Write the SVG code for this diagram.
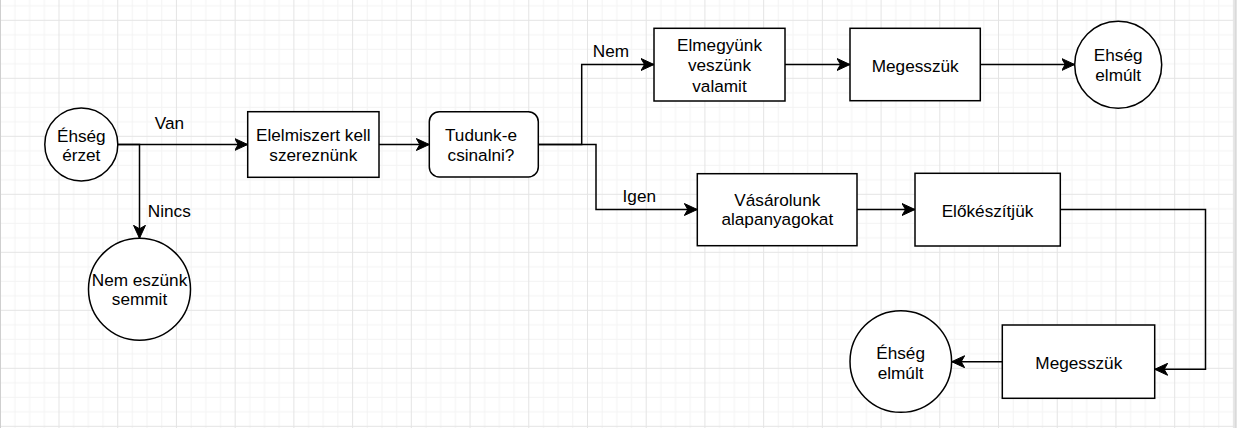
<svg xmlns="http://www.w3.org/2000/svg" width="1239" height="428" viewBox="0 0 1239 428">
<defs>
<pattern id="grid" patternUnits="userSpaceOnUse" x="-0.22" y="-38.2" width="58.72" height="58">
<rect x="14.68" y="0" width="1" height="58" fill="#f3f3f3"/>
<rect x="29.36" y="0" width="1" height="58" fill="#f3f3f3"/>
<rect x="44.04" y="0" width="1" height="58" fill="#f3f3f3"/>
<rect x="0" y="14.5" width="58.72" height="1" fill="#f3f3f3"/>
<rect x="0" y="29" width="58.72" height="1" fill="#f3f3f3"/>
<rect x="0" y="43.5" width="58.72" height="1" fill="#f3f3f3"/>
<rect x="0" y="0" width="1" height="58" fill="#e4e4e4"/>
<rect x="0" y="0" width="58.72" height="1" fill="#e4e4e4"/>
</pattern>
<marker id="arr" markerUnits="userSpaceOnUse" markerWidth="14" markerHeight="13" refX="13" refY="6.5" orient="auto" viewBox="0 0 14 13">
<path d="M0,0.5 L13,6.5 L0,12.5 L3.5,6.5 Z" fill="#000" stroke="#000" stroke-width="1"/>
</marker>
</defs>
<style>
.n{fill:#fff;stroke:#000;stroke-width:1.5}
.t{font-family:"Liberation Sans",Arial,Helvetica,sans-serif;font-size:17.2px;fill:#000;text-anchor:middle}
.e{fill:none;stroke:#000;stroke-width:1.5;marker-end:url(#arr)}
</style>
<rect width="1239" height="428" fill="#fff"/>
<rect x="0" y="0" width="1234" height="428" fill="url(#grid)"/>
<rect x="0" y="0" width="1" height="428" fill="#cfcfcf"/>
<rect x="1234.3" y="0" width="2.4" height="428" fill="#dadada"/>

<g id="connectors">
<path class="e" d="M117.7,144.5 H247.7"/>
<path class="e" d="M117.7,144.5 H139.5 V238.3"/>
<path class="e" d="M379,144.5 H429.3"/>
<path class="e" d="M531.7,144.5 H581.7 V64.5 H654"/>
<path class="e" d="M531.7,144.5 H596 V209.5 H697.3"/>
<path class="e" d="M785,64.5 H850"/>
<path class="e" d="M980.3,64.5 H1074.7"/>
<path class="e" d="M857,209.5 H915"/>
<path class="e" d="M1060.3,209.5 H1205.5 V369.3 H1154.7"/>
<path class="e" d="M1002.3,361.7 H951.7"/>
<text class="t" x="169.5" y="129.3">Van</text>
<text class="t" x="169.3" y="217">Nincs</text>
<text class="t" x="611" y="56.7">Nem</text>
<text class="t" x="639.3" y="201.7">Igen</text>
</g>

<g id="ehseg-erzet">
<circle class="n" cx="81.3" cy="144.4" r="36.5"/>
<text class="t" x="81.3" y="142.2">Éhség</text>
<text class="t" x="81.3" y="161.3">érzet</text>
</g>
<g id="nem-eszunk">
<circle class="n" cx="139.5" cy="289.2" r="51"/>
<text class="t" x="139.5" y="286">Nem eszünk</text>
<text class="t" x="139.5" y="305">semmit</text>
</g>
<g id="elelmiszert">
<rect class="n" x="247.7" y="111.7" width="131.3" height="65.6"/>
<text class="t" x="313.3" y="140.7">Elelmiszert kell</text>
<text class="t" x="313.3" y="161">szereznünk</text>
</g>
<g id="tudunk">
<rect class="n" x="429.3" y="111.7" width="109" height="65.3" rx="10" ry="10"/>
<text class="t" x="481" y="140.7">Tudunk-e</text>
<text class="t" x="481" y="160.7">csinalni?</text>
</g>
<g id="elmegyunk">
<rect class="n" x="654" y="28.3" width="131" height="72.7"/>
<text class="t" x="719.5" y="50.7">Elmegyünk</text>
<text class="t" x="719.5" y="71">veszünk</text>
<text class="t" x="719.5" y="91.5">valamit</text>
</g>
<g id="megesszuk1">
<rect class="n" x="850" y="28.3" width="130.3" height="72.4"/>
<text class="t" x="915.2" y="71.5">Megesszük</text>
</g>
<g id="ehseg-elmult1">
<circle class="n" cx="1118.2" cy="64.7" r="43.5"/>
<text class="t" x="1118.2" y="60.7">Ehség</text>
<text class="t" x="1118.2" y="80.7">elmúlt</text>
</g>
<g id="vasarolunk">
<rect class="n" x="697.3" y="173.7" width="159.7" height="72"/>
<text class="t" x="777.3" y="205.7">Vásárolunk</text>
<text class="t" x="777.3" y="225">alapanyagokat</text>
</g>
<g id="elokeszitjuk">
<rect class="n" x="915" y="173.3" width="145.3" height="72.7"/>
<text class="t" x="987.5" y="216.7">Előkészítjük</text>
</g>
<g id="megesszuk2">
<rect class="n" x="1002.3" y="325" width="152.4" height="73.3"/>
<text class="t" x="1078.8" y="369">Megesszük</text>
</g>
<g id="ehseg-elmult2">
<circle class="n" cx="900.8" cy="361.5" r="50.8"/>
<text class="t" x="900.6" y="359.3">Éhség</text>
<text class="t" x="900.6" y="379">elmúlt</text>
</g>
</svg>
